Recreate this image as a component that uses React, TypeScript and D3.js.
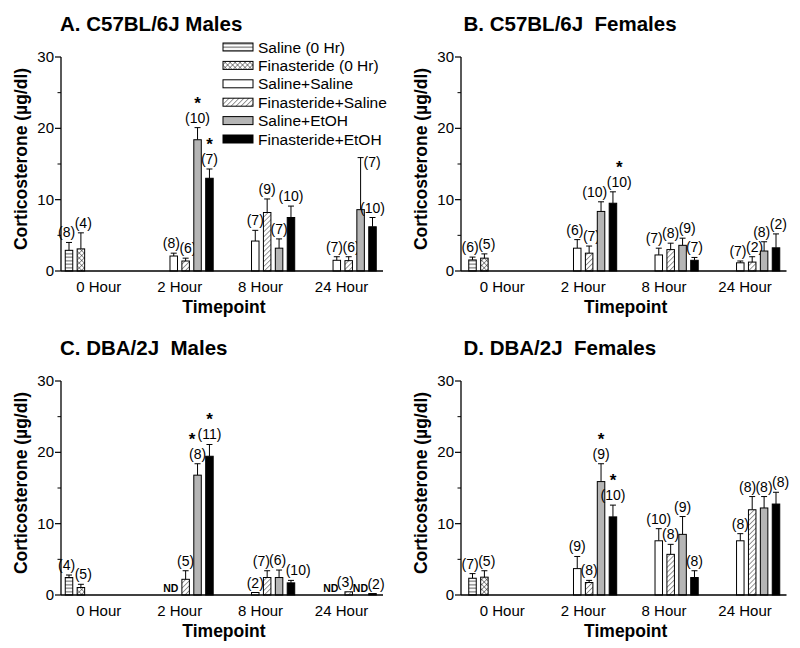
import React from "react";
import * as d3 from "d3";

const timepoints = ["0 Hour", "2 Hour", "8 Hour", "24 Hour"];
const treatments = [
  "Saline (0 Hr)",
  "Finasteride (0 Hr)",
  "Saline+Saline",
  "Finasteride+Saline",
  "Saline+EtOH",
  "Finasteride+EtOH",
];
// treatment index of each bar, per timepoint
const groupMembers = [[0, 1], [2, 3, 4, 5], [2, 3, 4, 5], [2, 3, 4, 5]];

const titles = ["A. C57BL/6J Males", "B. C57BL/6J  Females", "C. DBA/2J  Males", "D. DBA/2J  Females"];

// A. C57BL/6J males
const meansA = [[2.9, 3.1], [2.1, 1.4, 18.4, 13.0], [4.2, 8.2, 3.2, 7.5], [1.5, 1.45, 8.6, 6.2]];
const semsA = [[1.1, 2.25], [0.4, 0.4, 1.7, 1.3], [1.5, 1.9, 1.3, 1.6], [0.5, 0.55, 7.3, 1.3]];
const nsA = [[8, 4], [8, 6, 10, 7], [7, 9, 7, 10], [7, 6, 7, 10]];
const starsA = [[0, 0], [0, 0, 1, 1], [0, 0, 0, 0], [0, 0, 0, 0]];

// B. C57BL/6J females
const meansB = [[1.55, 1.8], [3.2, 2.5, 8.35, 9.5], [2.25, 3.0, 3.6, 1.5], [1.15, 1.25, 2.8, 3.25]];
const semsB = [[0.4, 0.6], [1.2, 1.0, 1.35, 1.6], [0.95, 0.9, 1.0, 0.4], [0.25, 0.75, 1.3, 1.95]];
const nsB = [[6, 5], [6, 7, 10, 10], [7, 8, 9, 7], [7, 2, 8, 2]];
const starsB = [[0, 0], [0, 0, 0, 1], [0, 0, 0, 0], [0, 0, 0, 0]];

// C. DBA/2J males (null = ND)
const meansC = [[2.45, 1.05], [null, 2.2, 16.8, 19.45], [0.35, 2.45, 2.45, 1.7], [null, 0.45, null, 0.2]];
const semsC = [[0.35, 0.45], [0, 1.2, 1.6, 1.65], [0, 0.95, 1.05, 0.35], [0, 0, 0, 0]];
const nsC = [[4, 5], [null, 5, 8, 11], [2, 7, 6, 10], [null, 3, null, 2]];
const starsC = [[0, 0], [0, 0, 1, 1], [0, 0, 0, 0], [0, 0, 0, 0]];

// D. DBA/2J females
const meansD = [[2.35, 2.5], [3.7, 1.75, 15.9, 10.95], [7.6, 5.7, 8.5, 2.45], [7.6, 11.95, 12.2, 12.75]];
const semsD = [[0.65, 0.9], [1.7, 0.3, 2.5, 1.65], [1.7, 1.4, 2.5, 0.95], [1.0, 1.85, 1.6, 1.65]];
const nsD = [[7, 5], [9, 8, 9, 10], [10, 8, 9, 8], [8, 8, 8, 8]];
const starsD = [[0, 0], [0, 0, 1, 1], [0, 0, 0, 0], [0, 0, 0, 0]];

const yTicks = [0, 10, 20, 30];
const yMinorTicks = [5, 15, 25];

// bar slot where each timepoint group starts, and where its label sits
const slotStart = [0, 8.8, 15.65, 22.5];
const tickSlot = [2.5, 9.3, 16.1, 22.9];

const font = "'Liberation Sans', Arial, Helvetica, sans-serif";
const fills = ["url(#hstripe)", "url(#xhatch)", "#fff", "url(#diag)", "#b5b5b5", "#000"];

const panels = [
  { ox: 0, oy: 0, shift: 0, means: meansA, sems: semsA, ns: nsA, stars: starsA, legend: true },
  { ox: 400, oy: 0, shift: 3.5, means: meansB, sems: semsB, ns: nsB, stars: starsB, legend: false },
  { ox: 0, oy: 324, shift: 0, means: meansC, sems: semsC, ns: nsC, stars: starsC, legend: false },
  { ox: 400, oy: 324, shift: 3.5, means: meansD, sems: semsD, ns: nsD, stars: starsD, legend: false },
];

const bw = 7.5;
const nFont = 14;
const starLift = 14;
const legendX = 223;
const legendY = 47;
const legendStep = 18.4;

function Panel({ p, title }: any) {
  const y = d3.scaleLinear().domain([0, 30]).range([271, 57]);
  const x = d3.scaleLinear().domain([0, 25.5]).range([69 + p.shift, 372.5 + p.shift]);
  const axisX = 61;
  const legendBottom = legendY + legendStep * (treatments.length - 1) + 6;

  const groups = groupMembers.map((members, gi) => {
    const items = members.map((t, j) => {
      const mean = p.means[gi][j];
      const sem = p.sems[gi][j];
      const cx = x(slotStart[gi] + j);
      const nd = mean == null;
      const txt = nd ? "ND" : `(${p.ns[gi][j]})`;
      const w = nd ? 15 : (txt.length - 2) * 0.556 * nFont + 2 * 0.333 * nFont;
      let lx = nd ? cx - 3 : cx;
      let ly = nd ? y(0) - 3 : y(mean + sem) - 5;
      // label would run into the legend: put it beside the error cap
      if (p.legend && !nd && ly - 11 < legendBottom && lx + w / 2 > legendX) {
        lx = cx + 3 + w / 2;
        ly = y(mean + sem) + 9;
      }
      return { cx, t, mean, sem, nd, txt, w, lx, ly, star: p.stars[gi][j], sx: cx };
    });
    // push neighbouring labels apart when they collide
    for (let pass = 0; pass < 3; pass++) {
      for (let k = 1; k < items.length; k++) {
        const a = items[k - 1];
        const b = items[k];
        if (Math.abs(a.ly - b.ly) < 11) {
          const ov = (a.w + b.w) / 2 - (b.lx - a.lx) - 0.5;
          if (ov > 0) {
            a.lx -= ov / 2;
            b.lx += ov / 2;
          }
        }
      }
    }
    // star sits above its label; slide it left if the next label is in the way
    items.forEach((it, k) => {
      it.sx = it.lx;
      const nxt = items[k + 1];
      if (it.star && nxt && !nxt.nd) {
        const starY = it.ly - starLift;
        if (Math.abs(starY - 4 - (nxt.ly - 5)) < 10 && it.sx + 4 > nxt.lx - nxt.w / 2) {
          it.sx = nxt.lx - nxt.w / 2 - 5;
        }
      }
    });
    return items;
  });
  const bars = groups.flat();

  return (
    <g transform={`translate(${p.ox},${p.oy})`} fontFamily={font}>
      <text x={60 + p.shift} y={31} fontSize={20.5} fontWeight="bold" style={{ whiteSpace: "pre" }}>
        {title}
      </text>

      {/* y axis */}
      <line x1={axisX} x2={axisX} y1={y(0)} y2={y(30)} stroke="#000" strokeWidth={1.3} />
      {yTicks.map((v) => (
        <g key={v}>
          <line x1={axisX - 6} x2={axisX} y1={y(v)} y2={y(v)} stroke="#000" strokeWidth={1.2} />
          <text x={axisX - 7} y={y(v) + 5} fontSize={15} textAnchor="end">
            {v}
          </text>
        </g>
      ))}
      {yMinorTicks.map((v) => (
        <line key={v} x1={axisX - 3.5} x2={axisX} y1={y(v)} y2={y(v)} stroke="#000" strokeWidth={1} />
      ))}
      <text
        transform={`translate(27,${(y(0) + y(30)) / 2 - 5}) rotate(-90)`}
        fontSize={17.5}
        fontWeight="bold"
        textAnchor="middle"
      >
        Corticosterone (µg/dl)
      </text>

      {/* bars */}
      {bars.map((b, i) => {
        if (b.nd) {
          return (
            <text key={i} x={b.lx} y={b.ly} fontSize={10.5} fontWeight="bold" textAnchor="middle">
              ND
            </text>
          );
        }
        const top = y(b.mean + b.sem);
        return (
          <g key={i}>
            {b.sem > 0 && (
              <g stroke="#000" strokeWidth={1}>
                <line x1={b.cx} x2={b.cx} y1={y(b.mean)} y2={top} />
                <line x1={b.cx - 3} x2={b.cx + 3} y1={top} y2={top} />
              </g>
            )}
            <rect
              x={b.cx - bw / 2}
              y={y(b.mean)}
              width={bw}
              height={y(0) - y(b.mean)}
              fill={fills[b.t]}
              stroke="#000"
              strokeWidth={1}
            />
            <text x={b.lx} y={b.ly} fontSize={nFont} textAnchor="middle">
              {b.txt}
            </text>
            {b.star ? (
              <text x={b.sx} y={b.ly - starLift} fontSize={17} fontWeight="bold" textAnchor="middle">
                *
              </text>
            ) : null}
          </g>
        );
      })}

      {/* x axis */}
      <line x1={axisX} x2={383 + p.shift} y1={y(0)} y2={y(0)} stroke="#000" strokeWidth={1.3} />
      {timepoints.map((tp, i) => (
        <text key={tp} x={x(tickSlot[i])} y={292} fontSize={15} textAnchor="middle">
          {tp}
        </text>
      ))}
      <text x={(axisX + 383 + p.shift) / 2 + 2} y={313} fontSize={17.5} fontWeight="bold" textAnchor="middle">
        Timepoint
      </text>

      {p.legend && (
        <g>
          {treatments.map((t, i) => {
            const cy = legendY + i * legendStep;
            return (
              <g key={t}>
                <rect x={legendX} y={cy - 4} width={30} height={8} fill={fills[i]} stroke="#000" strokeWidth={1} />
                <text x={legendX + 35} y={cy + 5.5} fontSize={15.5}>
                  {t}
                </text>
              </g>
            );
          })}
        </g>
      )}
    </g>
  );
}

export default function App() {
  return (
    <svg
      width={800}
      height={648}
      style={{ position: "absolute", left: 0, top: 0, background: "#fff" }}
    >
      <defs>
        <pattern id="hstripe" patternUnits="userSpaceOnUse" width={4} height={3.5}>
          <rect width={4} height={3.5} fill="#fff" />
          <line x1={0} x2={4} y1={1.75} y2={1.75} stroke="#000" strokeWidth={0.7} />
        </pattern>
        <pattern id="xhatch" patternUnits="userSpaceOnUse" width={3.5} height={3.5} patternTransform="rotate(45)">
          <rect width={3.5} height={3.5} fill="#fff" />
          <line x1={0} x2={0} y1={0} y2={3.5} stroke="#000" strokeWidth={0.8} />
          <line x1={0} x2={3.5} y1={0} y2={0} stroke="#000" strokeWidth={0.8} />
        </pattern>
        <pattern id="diag" patternUnits="userSpaceOnUse" width={3.5} height={3.5} patternTransform="rotate(45)">
          <rect width={3.5} height={3.5} fill="#fff" />
          <line x1={0} x2={0} y1={0} y2={3.5} stroke="#000" strokeWidth={0.8} />
        </pattern>
      </defs>
      <rect width={800} height={648} fill="#fff" />
      {panels.map((p, i) => (
        <Panel key={i} p={p} title={titles[i]} />
      ))}
    </svg>
  );
}
